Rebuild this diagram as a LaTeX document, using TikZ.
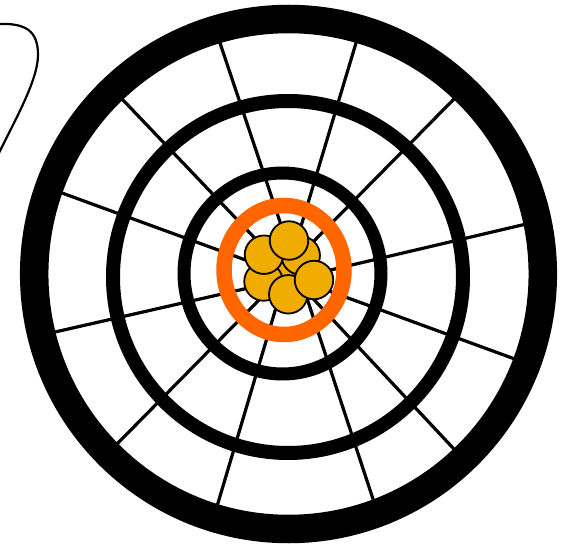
\documentclass[tikz,border=0pt]{standalone}
\usetikzlibrary{calc}
\definecolor{ringorange}{RGB}{255,102,0}
\definecolor{cellyellow}{RGB}{240,173,0}
\begin{document}
\begin{tikzpicture}[x=1pt,y=-1pt,
  spoke/.style={line width=3.2pt},
  blackring/.style={draw=black},
  cell/.style={circle,draw=black,line width=1.8pt,fill=cellyellow,minimum size=38.5pt,inner sep=0pt}]
\useasboundingbox (0,0) rectangle (568,548);
% spoke coordinates (outer end, inner end)
\coordinate (Ao) at (220,43);  \coordinate (Ai) at (297.5,274);
\coordinate (Bo) at (123,100); \coordinate (Bi) at (289,274);
\coordinate (Co) at (62,193);  \coordinate (Ci) at (288,275.5);
\coordinate (Do) at (356,43);  \coordinate (Di) at (286.7,274);
\coordinate (Eo) at (453,100); \coordinate (Ei) at (281.5,274);
\coordinate (Fo) at (522,225); \coordinate (Fi) at (288,280);
\coordinate (Go) at (55,332);  \coordinate (Gi) at (288,279);
\coordinate (Ho) at (118,443); \coordinate (Hi) at (284.6,274);
\coordinate (Io) at (218,503); \coordinate (Ii) at (286,274);
\coordinate (Jo) at (373,499); \coordinate (Ji) at (299,274);
\coordinate (Ko) at (453,448); \coordinate (Ki) at (290,274);
\coordinate (Lo) at (512,358); \coordinate (Li) at (288,276);
\foreach \s in {A,B,C,D,E,F,G,H,I,J,K,L}{
  \draw[spoke] ($(\s i)!1.05!(\s o)$) -- (\s i);
}
% rings
\coordinate (outerc) at (288.5,274);
\coordinate (middlec) at (288,277);
\coordinate (innerc) at (282.5,273.5);
\coordinate (orangec) at (284,270);
\draw[blackring,line width=28.5pt] (outerc) circle[x radius=254.3pt,y radius=255pt];
\draw[blackring,line width=14pt] (middlec) circle[x radius=175pt,y radius=176pt];
\draw[blackring,line width=13pt] (innerc) circle[x radius=98.5pt,y radius=100.5pt];
\draw[draw=ringorange,line width=15.5pt] (orangec) circle[x radius=60pt,y radius=64.5pt];
% cells
\node[cell] (c0) at (288,266) {};
\node[cell] (c1) at (300.7,255.5) {};
\node[cell] (c2) at (263.5,281.5) {};
\node[cell] (c3) at (264,254.7) {};
\node[cell] (c4) at (289,240.5) {};
\node[cell] (c5) at (288.3,294.3) {};
\node[cell] (c6) at (314,280) {};
% wavy line at top left
\coordinate (w0) at (-2,24);
\coordinate (w1) at (38,55);
\coordinate (w2) at (-2,155);
\draw[line width=2.2pt] (w0) .. controls (25,23) and (38,30) .. (w1) .. controls (38,80) and (15,120) .. (w2);
\end{tikzpicture}
\end{document}
